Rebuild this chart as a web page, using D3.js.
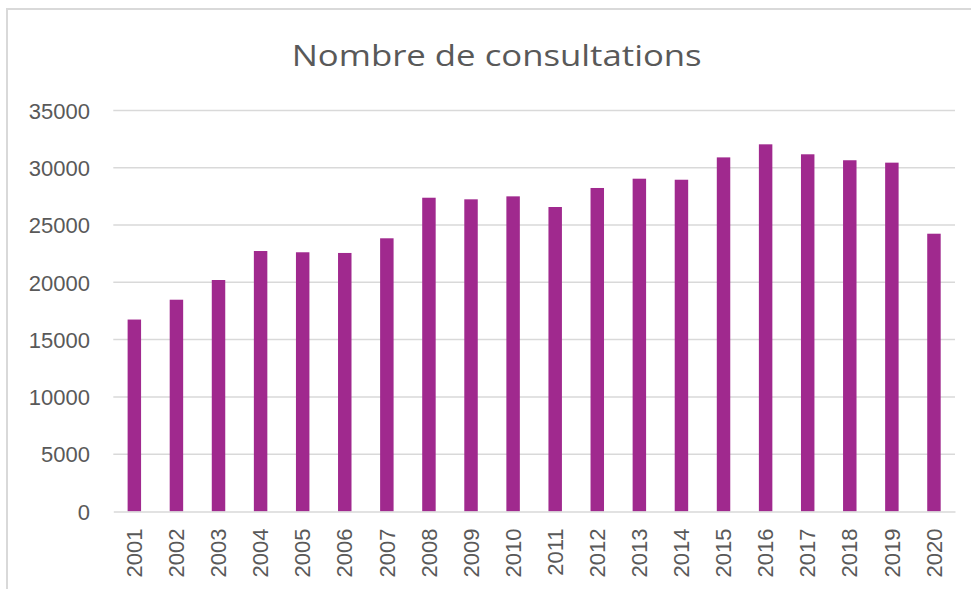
<!DOCTYPE html>
<html>
<head>
<meta charset="utf-8">
<script src="https://cdn.jsdelivr.net/npm/d3@7"></script>
<style>
  html, body { margin: 0; padding: 0; background: #ffffff; }
  svg { display: block; }
</style>
</head>
<body>
<svg id="chart" width="971" height="589"></svg>
<script>
const title = "Nombre de consultations";
const years = ["2001","2002","2003","2004","2005","2006","2007","2008","2009","2010",
               "2011","2012","2013","2014","2015","2016","2017","2018","2019","2020"];
const consultations = [16750, 18480, 20200, 22730, 22620, 22560, 23840, 27380, 27240, 27500,
                       26570, 28230, 29040, 28950, 30900, 32040, 31170, 30650, 30440, 24240];
const yTicks = [0, 5000, 10000, 15000, 20000, 25000, 30000, 35000];

const W = 971, H = 589;
const margin = { left: 113.3, right: 16, top: 110.4, bottom: 78 };
const svg = d3.select("#chart");

// chart frame (left and top edges visible)
svg.append("path")
  .attr("d", `M7,${H} L7,9 L${W},9`)
  .attr("fill", "none")
  .attr("stroke", "#d9d9d9")
  .attr("stroke-width", 2);

const x = d3.scaleBand()
  .domain(years)
  .range([margin.left, W - margin.right])
  .paddingInner(0.68)
  .paddingOuter(0.34);

const y = d3.scaleLinear()
  .domain([0, 35000])
  .range([511.5, margin.top]);

// title
svg.append("text")
  .attr("x", 496.7)
  .attr("y", 65.7)
  .attr("text-anchor", "middle")
  .attr("font-family", "'Open Sans', 'Liberation Sans', Arial, sans-serif")
  .attr("font-size", 30)
  .attr("fill", "#595959")
  .attr("textLength", 410)
  .attr("lengthAdjust", "spacingAndGlyphs")
  .text(title);

// gridlines
svg.append("g")
  .selectAll("line")
  .data(yTicks.filter(d => d > 0))
  .join("line")
  .attr("x1", margin.left)
  .attr("x2", W - margin.right)
  .attr("y1", d => y(d))
  .attr("y2", d => y(d))
  .attr("stroke", "#d9d9d9")
  .attr("stroke-width", 1.5);

// y axis labels
const yAxis = d3.axisLeft(y).tickValues(yTicks).tickSize(0).tickPadding(0).tickFormat(d3.format("d"));
const gy = svg.append("g")
  .attr("transform", "translate(90,0)")
  .call(yAxis);
gy.select(".domain").remove();
gy.selectAll("text")
  .attr("font-family", "'Liberation Sans', Arial, sans-serif")
  .attr("font-size", 22)
  .attr("fill", "#595959")
  .attr("dy", "0.35em");

// bars
svg.append("g")
  .selectAll("rect")
  .data(years.map((yr, i) => ({ yr, v: consultations[i] })))
  .join("rect")
  .attr("x", d => x(d.yr))
  .attr("width", x.bandwidth())
  .attr("y", d => y(d.v))
  .attr("height", d => y(0) - y(d.v))
  .attr("fill", "#a0298e");

// x axis
const xAxis = d3.axisBottom(x).tickSize(0).tickPadding(0);
const gx = svg.append("g")
  .attr("transform", `translate(0,${y(0)})`)
  .call(xAxis);
gx.select(".domain")
  .attr("stroke", "#d9d9d9")
  .attr("stroke-width", 1.5);
gx.selectAll("text")
  .attr("font-family", "'Liberation Sans', Arial, sans-serif")
  .attr("font-size", 22)
  .attr("fill", "#595959")
  .attr("text-anchor", "end")
  .attr("transform", "translate(0,17) rotate(-90)")
  .attr("x", 0)
  .attr("y", 0)
  .attr("dy", "0.35em");
</script>
</body>
</html>
